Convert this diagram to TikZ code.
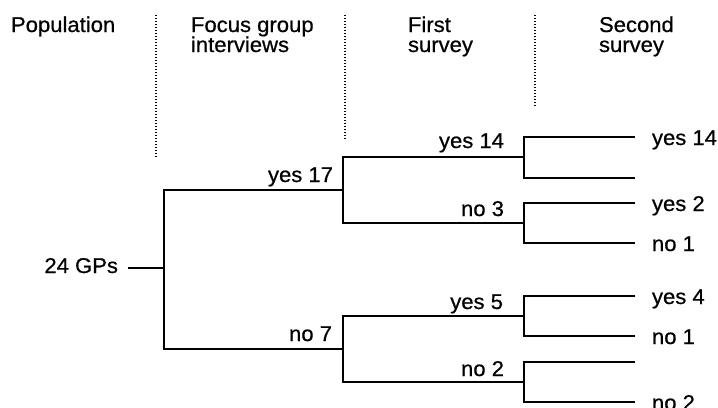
\documentclass[tikz,border=0pt]{standalone}
\usepackage{fontspec}
\setmainfont[FakeStretch=1.03,FakeBold=0.6]{Liberation Sans}
\begin{document}
\begin{tikzpicture}[x=1bp,y=-1bp,
  every node/.style={inner sep=0pt,outer sep=0pt,font=\fontsize{21.5}{20}\selectfont},
  tree/.style={line width=1.4bp,line join=miter},
  sep/.style={line width=1.3bp,dash pattern=on 1.2bp off 1.8bp},
  head/.style={anchor=base west},
  blab/.style={anchor=base east},
  leaf/.style={anchor=base west}]
\clip (0,0) rectangle (718,407);
\useasboundingbox (0,0) rectangle (718,407);
% headers
\node[head] (h1) at (11,32) {Population};
\node[head] (h2a) at (191,32) {Focus group};
\node[head] (h2b) at (191,52) {interviews};
\node[head] (h3a) at (408,32) {First};
\node[head] (h3b) at (408,52) {survey};
\node[head] (h4a) at (599,32) {Second};
\node[head] (h4b) at (599,52) {survey};
% separators
\coordinate (s1t) at (156,15); \coordinate (s1b) at (156,159);
\coordinate (s2t) at (345,15); \coordinate (s2b) at (345,140);
\coordinate (s3t) at (535,15); \coordinate (s3b) at (535,108);
\draw[sep] (s1t) -- (s1b);
\draw[sep] (s2t) -- (s2b);
\draw[sep] (s3t) -- (s3b);
% root
\node[anchor=base east] (root) at (118,273) {24 GPs};
\coordinate (r) at (128,268);
\coordinate (j0) at (164,268);
\coordinate (A) at (343,190);
\coordinate (B) at (343,349);
\coordinate (A1) at (524,157);
\coordinate (A2) at (524,223);
\coordinate (B1) at (524,316);
\coordinate (B2) at (524,382);
\coordinate (L1) at (635,137);
\coordinate (L2) at (635,178);
\coordinate (L3) at (635,203);
\coordinate (L4) at (635,243);
\coordinate (L5) at (635,296);
\coordinate (L6) at (635,336);
\coordinate (L7) at (635,362);
\coordinate (L8) at (635,402);
\draw[tree] (r) -- (j0);
\draw[tree] (A) -| (j0) |- (B);
\draw[tree] (A1) -| (A) |- (A2);
\draw[tree] (B1) -| (B) |- (B2);
\draw[tree] (L1) -| (A1) |- (L2);
\draw[tree] (L3) -| (A2) |- (L4);
\draw[tree] (L5) -| (B1) |- (L6);
\draw[tree] (L7) -| (B2) |- (L8);
% branch labels
\node[blab] (tA) at (333,182) {yes 17};
\node[blab] (tB) at (332,341) {no 7};
\node[blab] (tA1) at (504,148) {yes 14};
\node[blab] (tA2) at (504,216) {no 3};
\node[blab] (tB1) at (503,309) {yes 5};
\node[blab] (tB2) at (504,376) {no 2};
% leaf labels
\node[leaf] (l1) at (652,145) {yes 14};
\node[leaf] (l3) at (652,211) {yes 2};
\node[leaf] (l4) at (652,251) {no 1};
\node[leaf] (l5) at (652,304) {yes 4};
\node[leaf] (l6) at (652,344) {no 1};
\node[leaf] (l8) at (652,410) {no 2};
\end{tikzpicture}
\end{document}
